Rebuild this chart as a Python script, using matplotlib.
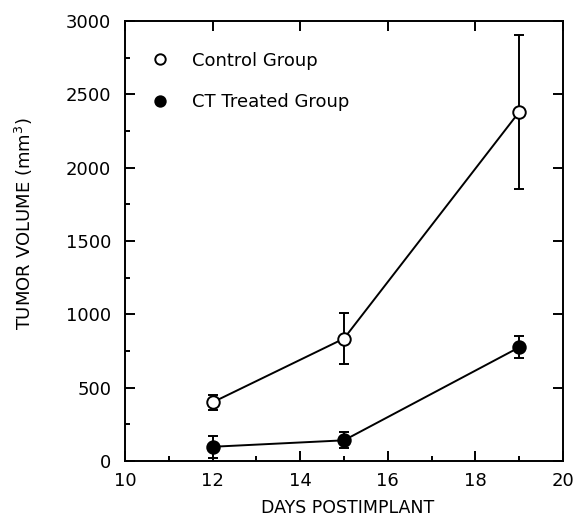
import matplotlib
matplotlib.use("Agg")
import matplotlib.pyplot as plt
from matplotlib.ticker import MultipleLocator

days = [12, 15, 19]
control_mean = [400, 835, 2380]
control_err = [50, 175, 525]
ct_mean = [97, 141, 775]
ct_err = [74, 54, 75]

plt.rcParams['font.family'] = ['DejaVu Sans']
fig = plt.figure(figsize=(5.74, 5.21), dpi=100)
ax = fig.add_axes([125/574, 1 - 461/521, 438/574, 440/521])

common = dict(fmt='-o', color='black', mec='black', ms=9, lw=1.4,
              capsize=3.6, elinewidth=1.4, capthick=1.4, mew=1.4, zorder=3)
ax.errorbar(days, control_mean, yerr=control_err, mfc='white', **common)
ax.errorbar(days, ct_mean, yerr=ct_err, mfc='black', **common)

ax.set_xlim(10, 20)
ax.set_ylim(0, 3000)
ax.xaxis.set_major_locator(MultipleLocator(2))
ax.xaxis.set_minor_locator(MultipleLocator(1))
ax.yaxis.set_major_locator(MultipleLocator(500))
ax.yaxis.set_minor_locator(MultipleLocator(250))
ax.tick_params(which='both', direction='in', width=1.4, labelsize=13)
ax.tick_params(which='major', length=7.2, top=True, right=True)
ax.tick_params(which='minor', length=3.8, top=False, right=False)
ax.tick_params(axis='x', which='major', pad=8)
ax.tick_params(axis='y', which='major', pad=10)
for s in ax.spines.values():
    s.set_linewidth(1.4)

ax.set_xlabel('DAYS POSTIMPLANT', fontsize=12.5)
ax.xaxis.set_label_coords(0.508, -0.086)
ax.set_ylabel('TUMOR VOLUME (mm$^3$)', fontsize=13)
ax.yaxis.set_label_coords(-0.205, 0.54)

h1 = plt.Line2D([], [], marker='o', ls='none', color='black', mfc='white', ms=7.5, mew=1.4)
h2 = plt.Line2D([], [], marker='o', ls='none', color='black', mfc='black', ms=7.5, mew=1.4)
ax.legend([h1, h2], ['Control Group', 'CT Treated Group'], loc='upper left',
          frameon=False, fontsize=13, handlelength=1.8, handletextpad=0.87,
          labelspacing=1.3, borderpad=0, borderaxespad=0,
          bbox_to_anchor=(0.043, 0.93))

fig.savefig('out.png', dpi=100)
